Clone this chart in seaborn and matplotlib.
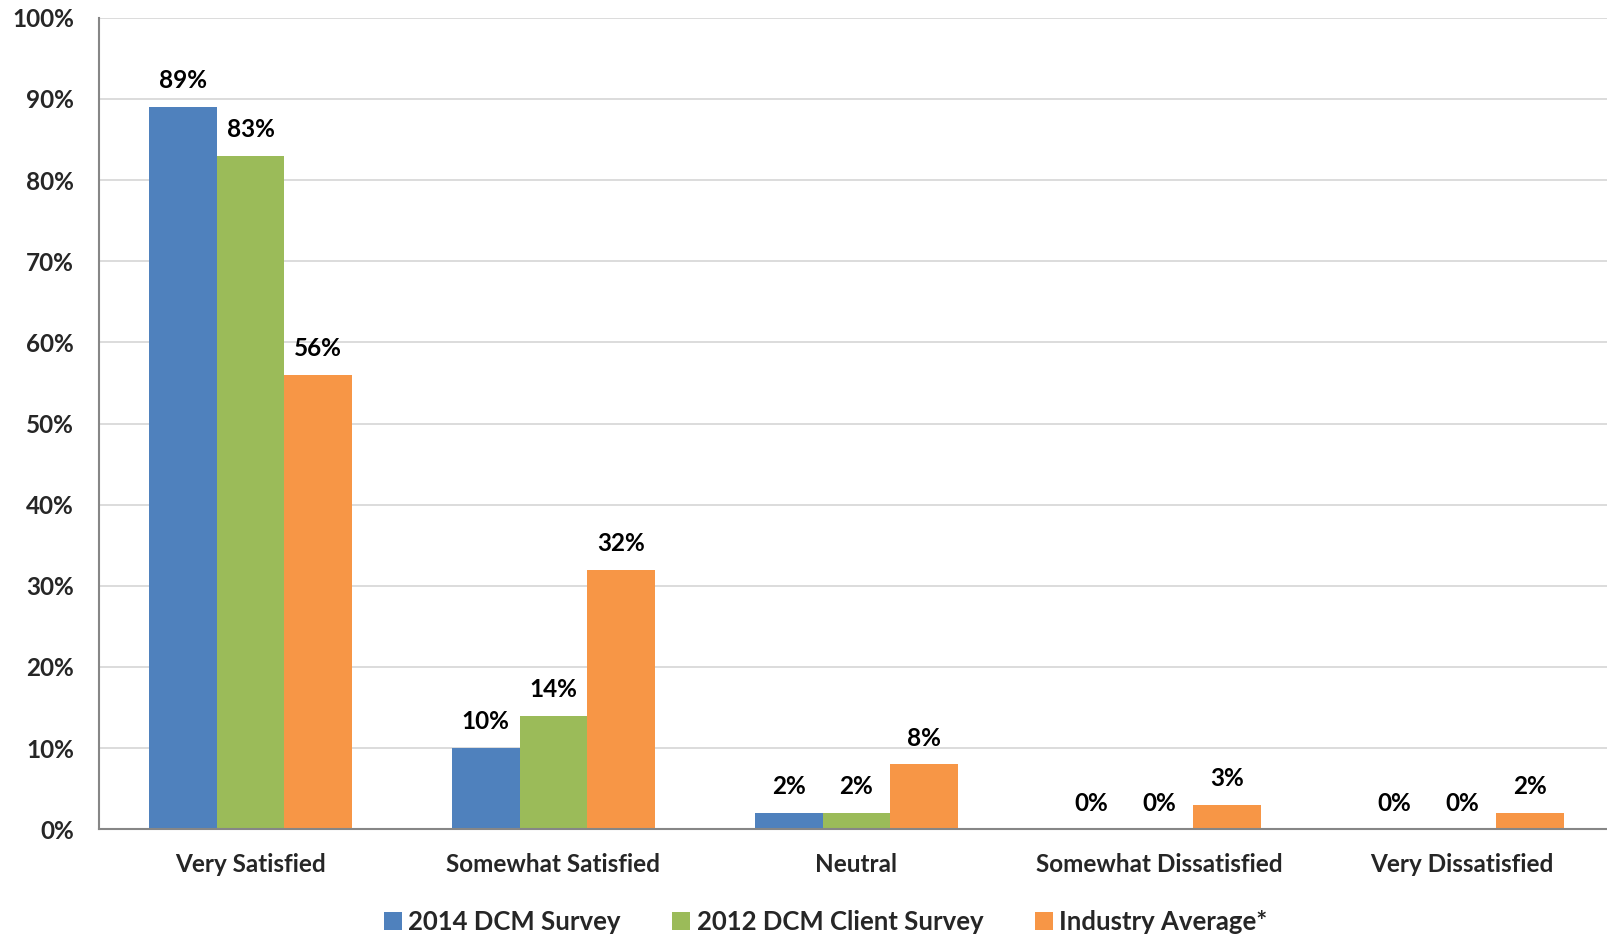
import matplotlib
matplotlib.use("Agg")
import matplotlib.pyplot as plt
from matplotlib.patches import Patch
import seaborn as sns
import pandas as pd

categories = ["Very Satisfied", "Somewhat Satisfied", "Neutral",
              "Somewhat Dissatisfied", "Very Dissatisfied"]
series = ["2014 DCM Survey", "2012 DCM Client Survey", "Industry Average*"]
survey_2014 = [89, 10, 2, 0, 0]
survey_2012 = [83, 14, 2, 0, 0]
industry_avg = [56, 32, 8, 3, 2]
y_ticks = [0, 10, 20, 30, 40, 50, 60, 70, 80, 90, 100]

colors = ["#4F81BD", "#9BBB59", "#F79646"]

df = pd.DataFrame({
    "category": categories * 3,
    "series": [s for s in series for _ in categories],
    "value": survey_2014 + survey_2012 + industry_avg,
})

sns.set_theme(style="white")
plt.rcParams["font.family"] = ["Lato", "DejaVu Sans"]
plt.rcParams["font.weight"] = "bold"

fig = plt.figure(figsize=(16.08, 9.38), dpi=100)
# plot area runs slightly past the right edge of the figure
ax = fig.add_axes([0.0616, 0.116, 0.942, 0.865])

sns.barplot(data=df, x="category", y="value", hue="series",
            order=categories, hue_order=series, palette=colors,
            width=0.67, linewidth=0, saturation=1, errorbar=None,
            legend=False, ax=ax)

for cont in ax.containers:
    ax.bar_label(cont, labels=[f"{v:.0f}%" for v in cont.datavalues],
                 padding=10.5, fontsize=17.5, fontweight="bold", color="black")

ax.set_ylim(0, 100)
ax.set_xlim(-0.5, len(categories) - 0.5)
ax.set_yticks(y_ticks)
ax.set_yticklabels([f"{t}%" for t in y_ticks], fontsize=17.5, fontweight="bold")
ax.set_xticks(range(len(categories)))
ax.set_xticklabels(categories, fontsize=17.5, fontweight="bold")
ax.set_xlabel("")
ax.set_ylabel("")

# category boundary ticks on the x axis
ax.set_xticks([i - 0.5 for i in range(len(categories) + 1)], minor=True)
ax.tick_params(axis="x", which="major", length=0, pad=17)
ax.tick_params(axis="x", which="minor", length=5, width=1.3,
               color="#868686", direction="out")
ax.tick_params(axis="y", which="major", length=6, width=1.3,
               color="#868686", direction="out", pad=12)

ax.yaxis.grid(True, color="#D9D9D9", linewidth=1.3)
ax.set_axisbelow(True)
for side in ["top", "right"]:
    ax.spines[side].set_visible(False)
for side in ["left", "bottom"]:
    ax.spines[side].set_color("#868686")
    ax.spines[side].set_linewidth(1.5)

handles = [Patch(facecolor=c, edgecolor="none") for c in colors]
fig.legend(handles, series, loc="center", bbox_to_anchor=(0.5135, 0.017),
           ncol=3, frameon=False, handlelength=0.7, handleheight=0.7,
           handletextpad=0.25, columnspacing=2.0,
           prop={"size": 18.5, "weight": "bold"})

fig.savefig("out.png", dpi=100)
